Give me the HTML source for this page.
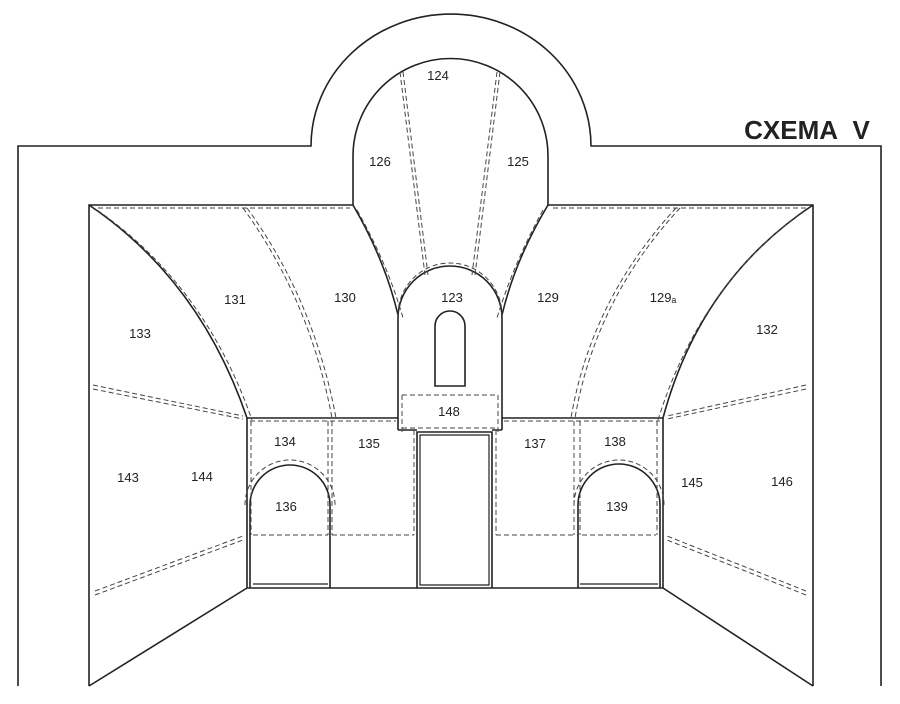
<!DOCTYPE html>
<html><head><meta charset="utf-8"><style>
body{margin:0;background:#fff;}
svg{display:block;}
text{font-family:"Liberation Sans",sans-serif;font-size:13px;fill:#222;text-anchor:middle;}
</style></head><body>
<svg width="900" height="704" viewBox="0 0 900 704" xmlns="http://www.w3.org/2000/svg">
<g fill="none" stroke="#222" stroke-width="1.6">
<path d="M18,686 V146 H311 A140,132 0 0 1 591,146 H881 V686"/>
<path d="M89,686 V205 H353 V156 A97.5,97.5 0 0 1 548,156 V205 H813 V686"/>
<path d="M89,686 L247,588 H663 L813,686"/>
<path d="M89,205 Q200,280 247,418"/>
<path d="M813,205 Q700,280 663,418"/>
<path d="M353,205 Q385,260 398,315"/>
<path d="M548,205 Q515,260 502,315"/>
<path d="M398,430 V318 A52,52 0 0 1 502,318 V430"/>
<path d="M398,430 H417 M492,430 H502"/>
<path d="M435,386 V326 A15,15 0 0 1 465,326 V386 Z"/>
<path d="M247,418 H398 M502,418 H663"/>
<path d="M247,418 V588 M663,418 V588"/>
<path d="M417,588 V432 H492 V588"/>
<path d="M420,585 V435 H489 V585 Z" stroke-width="1.2"/>
<path d="M250,588 V505 A40,40 0 0 1 330,505 V588"/>
<path d="M253,584 H328" stroke-width="1.2"/>
<path d="M578,588 V505 A41,41 0 0 1 660,505 V588"/>
<path d="M580,584 H658" stroke-width="1.2"/>
</g>
<g fill="none" stroke="#444" stroke-width="1" stroke-dasharray="5,3">
<path d="M98,208 H350 M553,208 H806"/>
<path d="M97,210 Q205,285 252,420"/>
<path d="M805,210 Q700,285 658,420"/>
<path d="M357,210 Q388,265 403,318"/>
<path d="M543,210 Q513,265 497,318"/>
<path d="M243,208 Q310,300 332,418"/><path d="M247,208 Q314,300 336,418"/>
<path d="M680,208 Q595,300 575,418"/><path d="M676,208 Q591,300 571,418"/>
<path d="M400,72 L425,275"/><path d="M403,72 L428,275"/>
<path d="M500,72 L475,275"/><path d="M497,72 L472,275"/>
<path d="M398,315 A52,52 0 0 1 502,315"/>
<path d="M402,395 H498 M402,428 H498 M402,395 V432 M498,395 V432"/>
<path d="M93,385 L243,416"/><path d="M93,389 L243,419"/>
<path d="M95,591 L243,536"/><path d="M95,595 L243,540"/>
<path d="M806,385 L667,416"/><path d="M806,389 L667,419"/>
<path d="M806,591 L667,536"/><path d="M806,595 L667,540"/>
<path d="M250,421 H396 M504,421 H660"/>
<path d="M251,421 V535 M328,421 V535 M332,421 V535 M414,430 V535"/>
<path d="M496,430 V535 M574,421 V535 M580,421 V535 M657,421 V535"/>
<path d="M253,535 H328 M332,535 H414 M496,535 H574 M582,535 H656"/>
<path d="M245,505 A43,43 0 0 1 335,505"/>
<path d="M574,505 A44,44 0 0 1 664,505"/>
</g>
<text x="438" y="80">124</text>
<text x="380" y="166">126</text>
<text x="518" y="166">125</text>
<text x="235" y="304">131</text>
<text x="345" y="302">130</text>
<text x="452" y="302">123</text>
<text x="548" y="302">129</text>
<text x="663" y="302">129ₐ</text>
<text x="140" y="338">133</text>
<text x="767" y="334">132</text>
<text x="449" y="416">148</text>
<text x="285" y="446">134</text>
<text x="369" y="448">135</text>
<text x="535" y="448">137</text>
<text x="615" y="446">138</text>
<text x="128" y="482">143</text>
<text x="202" y="481">144</text>
<text x="692" y="487">145</text>
<text x="782" y="486">146</text>
<text x="286" y="511">136</text>
<text x="617" y="511">139</text>
<text x="807" y="139" style="font-size:26px;font-weight:bold;fill:#222">CXEMA&#160;&#160;V</text>
</svg>
</body></html>
